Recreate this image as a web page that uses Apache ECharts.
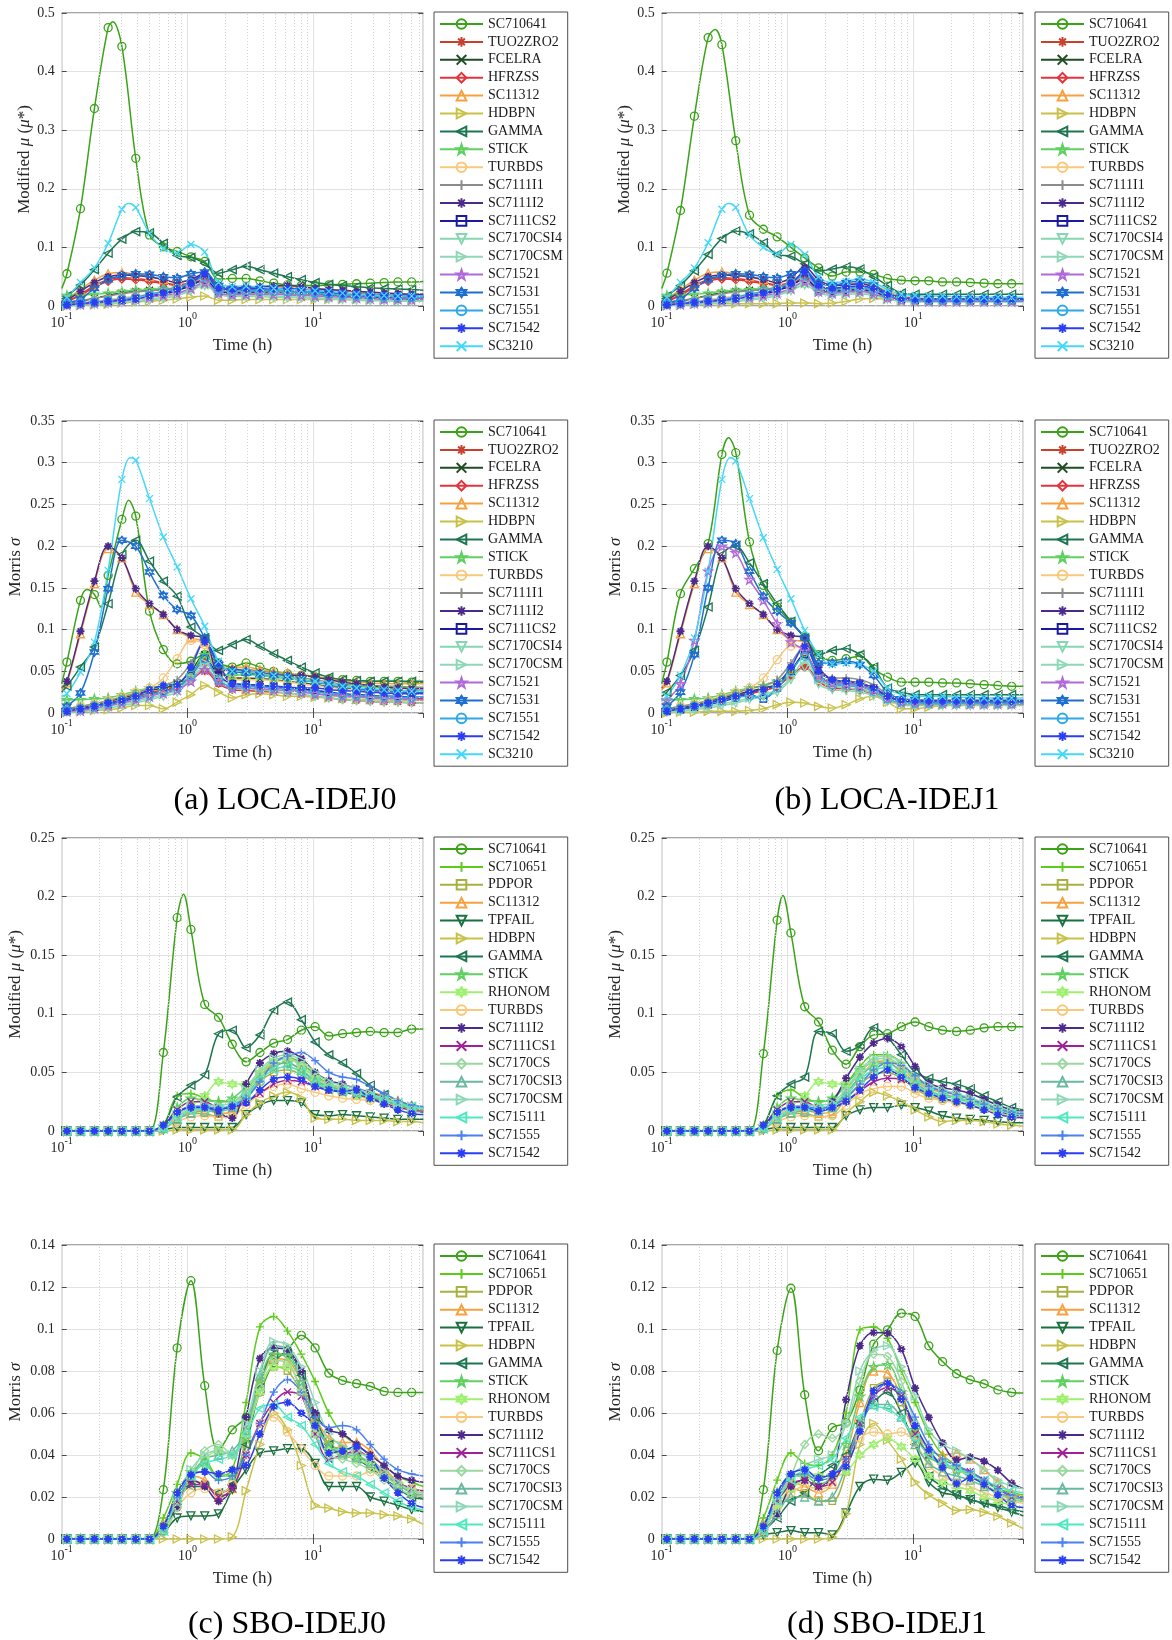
<!DOCTYPE html>
<html>
<head>
<meta charset="utf-8">
<script src="https://cdn.jsdelivr.net/npm/echarts/dist/echarts.min.js"></script>
<style>
html,body{margin:0;padding:0;background:#fff}
#chart{width:1172px;height:1640px}
</style>
</head>
<body>
<div id="chart"></div>
<script>
// Sampling times (h): first/last entries are the curve ends, the rest carry markers.
const T_START = 0.1;
const T_END = 75;
const MARKER_TIMES = [0.11, 0.141, 0.182, 0.234, 0.301, 0.388, 0.499, 0.643, 0.828, 1.065, 1.371, 1.766, 2.272,
  2.926, 3.767, 4.849, 6.24, 8.04, 10.35, 13.3, 17.1, 22.1, 28.4, 36.6, 47.1, 60.6];
const MINOR_GRID = [0.2,0.3,0.4,0.5,0.6,0.7,0.8,0.9,2,3,4,5,6,7,8,9,20,30,40,50,60,70];

const LOCA_NAMES = ['SC710641','TUO2ZRO2','FCELRA','HFRZSS','SC11312','HDBPN','GAMMA','STICK','TURBDS',
  'SC7111I1','SC7111I2','SC7111CS2','SC7170CSI4','SC7170CSM','SC71521','SC71531','SC71551','SC71542','SC3210'];
const SBO_NAMES = ['SC710641','SC710651','PDPOR','SC11312','TPFAIL','HDBPN','GAMMA','STICK','RHONOM','TURBDS',
  'SC7111I2','SC7111CS1','SC7170CS','SC7170CSI3','SC7170CSM','SC715111','SC71555','SC71542'];

// Each row: value at T_START, 26 marker values, value at T_END (28 numbers).
const locaIdej0Mu = {
  SC710641:  [.030,.055,.166,.337,.475,.443,.252, .121,.101,.093,.084,.076,.046,.047, .047,.043,.039,.036,.035,.035,.036, .037,.038,.039,.040,.041,.041,.042],
  TUO2ZRO2:  [.005,.008,.020,.035,.045,.048,.047, .044,.040,.036,.040,.048,.030,.026, .026,.026,.025,.024,.023,.022,.021, .020,.019,.018,.017,.016,.016,.016],
  FCELRA:    [.002,.004,.008,.013,.018,.022,.025, .027,.028,.030,.035,.045,.028,.025, .026,.027,.026,.025,.024,.023,.022, .021,.020,.019,.018,.017,.017,.017],
  HFRZSS:    [.004,.007,.018,.032,.042,.046,.045, .042,.038,.035,.038,.045,.028,.024, .024,.024,.023,.022,.021,.020,.019, .018,.017,.016,.016,.015,.015,.015],
  SC11312:   [.008,.012,.028,.044,.055,.057,.054, .050,.045,.040,.045,.050,.033,.030, .031,.032,.033,.033,.032,.030,.028, .026,.024,.023,.022,.021,.020,.020],
  HDBPN:     [.000,.000,.001,.002,.003,.005,.007, .008,.010,.012,.015,.017,.010,.010, .011,.011,.011,.011,.011,.011,.011, .011,.011,.011,.011,.011,.011,.011],
  GAMMA:     [.012,.017,.036,.062,.090,.114,.127, .125,.107,.086,.083,.073,.056,.062, .068,.062,.056,.050,.045,.040,.037, .035,.033,.031,.030,.029,.028,.027],
  STICK:     [.016,.018,.019,.020,.022,.025,.027, .028,.030,.030,.032,.038,.025,.022, .022,.022,.021,.020,.020,.019,.018, .017,.016,.015,.015,.014,.014,.014],
  TURBDS:    [.002,.003,.005,.008,.011,.014,.017, .020,.024,.030,.040,.048,.030,.026, .026,.025,.024,.023,.022,.021,.020, .019,.018,.017,.016,.016,.015,.015],
  SC7111I1:  [.003,.005,.009,.013,.017,.021,.024, .026,.028,.032,.040,.050,.030,.027, .028,.028,.027,.026,.025,.024,.023, .022,.021,.020,.019,.018,.018,.018],
  SC7111I2:  [.006,.010,.025,.040,.050,.053,.052, .050,.045,.040,.045,.055,.035,.030, .032,.033,.034,.035,.033,.030,.028, .027,.025,.024,.022,.021,.020,.020],
  SC7111CS2: [.001,.002,.004,.006,.008,.010,.013, .016,.020,.026,.035,.045,.025,.022, .023,.024,.024,.023,.022,.021,.020, .018,.017,.016,.015,.014,.014,.014],
  SC7170CSI4:[.000,.001,.002,.003,.004,.006,.008, .010,.013,.018,.026,.035,.020,.016, .016,.016,.015,.015,.014,.013,.012, .011,.010,.009,.009,.008,.008,.008],
  SC7170CSM: [.000,.001,.002,.004,.005,.007,.009, .012,.015,.020,.028,.038,.022,.018, .018,.018,.017,.016,.015,.014,.013, .012,.011,.010,.010,.009,.009,.009],
  SC71521:   [.001,.002,.003,.005,.007,.009,.012, .015,.018,.022,.030,.040,.022,.019, .020,.020,.020,.019,.018,.017,.016, .015,.014,.013,.012,.012,.011,.011],
  SC71531:   [.003,.005,.012,.030,.045,.052,.055, .054,.050,.048,.055,.058,.035,.030, .030,.030,.030,.028,.027,.025,.022, .020,.018,.017,.016,.015,.015,.015],
  SC71551:   [.002,.003,.005,.007,.009,.012,.015, .020,.025,.030,.040,.050,.028,.025, .026,.026,.025,.024,.023,.022,.020, .019,.018,.017,.016,.016,.015,.015],
  SC71542:   [.001,.002,.004,.006,.008,.010,.012, .017,.022,.028,.038,.055,.030,.028, .030,.030,.030,.030,.028,.026,.024, .022,.020,.019,.018,.017,.017,.017],
  SC3210:    [.008,.015,.040,.065,.107,.165,.168, .124,.098,.090,.105,.092,.040,.033, .034,.032,.030,.028,.027,.026,.025, .022,.020,.019,.018,.017,.017,.017]
};
const locaIdej0MuPeaks = { SC710641: [[0.255, .485]], SC3210: [[0.34, .175]] };

const locaIdej1Mu = {
  SC710641:  [.030,.056,.163,.324,.458,.446,.282, .155,.131,.118,.100,.082,.065,.051, .058,.058,.054,.047,.044,.043,.043, .041,.041,.040,.039,.038,.038,.038],
  TUO2ZRO2:  [.005,.008,.020,.035,.045,.048,.047, .044,.040,.036,.040,.050,.032,.028, .030,.030,.027,.020,.013,.011,.010, .010,.010,.010,.010,.010,.010,.010],
  FCELRA:    [.002,.004,.008,.013,.018,.022,.025, .027,.028,.030,.035,.048,.032,.028, .030,.030,.027,.019,.013,.011,.010, .010,.010,.010,.010,.010,.010,.010],
  HFRZSS:    [.004,.007,.018,.032,.042,.046,.045, .042,.038,.035,.038,.046,.030,.026, .028,.028,.025,.018,.012,.010,.009, .009,.009,.009,.009,.009,.009,.009],
  SC11312:   [.008,.012,.028,.044,.056,.058,.055, .050,.045,.040,.045,.052,.040,.035, .037,.038,.035,.025,.017,.014,.013, .012,.012,.012,.011,.011,.011,.011],
  HDBPN:     [.000,.001,.002,.003,.004,.004,.004, .004,.004,.004,.005,.005,.004,.005, .008,.012,.013,.011,.009,.009,.009, .009,.009,.009,.009,.009,.009,.009],
  GAMMA:     [.012,.017,.035,.060,.088,.115,.128, .123,.108,.088,.085,.072,.060,.063, .067,.063,.050,.035,.022,.020,.020, .020,.020,.020,.020,.020,.020,.020],
  STICK:     [.016,.018,.019,.020,.022,.025,.027, .028,.030,.030,.032,.040,.028,.025, .026,.026,.023,.017,.012,.011,.010, .010,.010,.010,.010,.010,.010,.010],
  TURBDS:    [.002,.003,.005,.008,.011,.014,.017, .020,.024,.030,.040,.050,.032,.028, .030,.030,.026,.018,.012,.010,.009, .009,.009,.009,.009,.009,.009,.009],
  SC7111I1:  [.003,.005,.009,.013,.017,.021,.024, .026,.028,.032,.040,.052,.034,.030, .032,.032,.028,.019,.013,.011,.011, .011,.011,.011,.011,.011,.011,.011],
  SC7111I2:  [.006,.010,.025,.040,.050,.053,.052, .050,.045,.040,.048,.066,.045,.035, .036,.038,.033,.022,.015,.013,.012, .012,.012,.011,.011,.011,.011,.011],
  SC7111CS2: [.001,.002,.004,.006,.008,.010,.013, .016,.020,.026,.035,.046,.028,.025, .027,.028,.024,.016,.011,.010,.009, .009,.009,.009,.009,.009,.009,.009],
  SC7170CSI4:[.000,.001,.002,.003,.004,.006,.008, .010,.013,.018,.026,.036,.022,.018, .020,.021,.018,.012,.008,.007,.007, .007,.007,.007,.007,.007,.007,.007],
  SC7170CSM: [.000,.001,.002,.004,.005,.007,.009, .012,.015,.020,.028,.040,.024,.020, .022,.023,.020,.013,.009,.008,.008, .008,.008,.008,.008,.008,.008,.008],
  SC71521:   [.001,.002,.003,.005,.007,.009,.012, .015,.018,.022,.030,.042,.025,.022, .024,.025,.021,.014,.010,.009,.008, .008,.008,.008,.008,.008,.008,.008],
  SC71531:   [.003,.005,.012,.030,.045,.052,.055, .054,.050,.048,.055,.060,.040,.035, .040,.042,.036,.022,.015,.013,.012, .012,.012,.012,.012,.012,.012,.012],
  SC71551:   [.002,.003,.005,.007,.009,.012,.015, .020,.025,.030,.040,.052,.033,.028, .030,.031,.027,.018,.013,.011,.010, .010,.010,.010,.010,.010,.010,.010],
  SC71542:   [.001,.002,.004,.006,.008,.010,.012, .017,.022,.028,.038,.058,.035,.030, .033,.034,.030,.020,.014,.012,.012, .012,.012,.012,.012,.012,.012,.012],
  SC3210:    [.008,.015,.040,.065,.108,.165,.168, .121,.100,.089,.105,.088,.050,.040, .042,.046,.040,.028,.020,.018,.017, .017,.016,.016,.015,.015,.015,.015]
};
const locaIdej1MuPeaks = { SC710641: [[0.266, .472]], SC3210: [[0.34, .175]] };

const locaIdej0Sigma = {
  SC710641:  [.035,.061,.135,.142,.165,.232,.236, .122,.076,.059,.062,.070,.060,.055, .060,.055,.050,.047,.045,.043,.041, .040,.039,.038,.038,.038,.037,.037],
  TUO2ZRO2:  [.002,.003,.006,.009,.012,.016,.020, .024,.028,.032,.040,.050,.035,.028, .027,.026,.025,.024,.022,.020,.018, .016,.015,.014,.013,.013,.012,.012],
  FCELRA:    [.003,.004,.007,.010,.014,.018,.022, .027,.030,.035,.050,.070,.050,.042, .042,.041,.040,.038,.036,.034,.032, .030,.029,.028,.027,.027,.026,.026],
  HFRZSS:    [.002,.003,.005,.008,.011,.015,.019, .023,.027,.032,.045,.060,.042,.035, .034,.033,.031,.029,.027,.025,.023, .021,.020,.019,.018,.018,.017,.017],
  SC11312:   [.028,.036,.095,.155,.197,.186,.145, .130,.118,.100,.090,.085,.052,.054, .055,.052,.050,.048,.046,.044,.041, .039,.037,.036,.035,.035,.035,.035],
  HDBPN:     [.000,.001,.002,.003,.004,.006,.009, .009,.005,.013,.022,.033,.025,.018, .022,.023,.022,.020,.020,.019,.018, .017,.016,.016,.015,.015,.015,.015],
  GAMMA:     [.025,.032,.055,.079,.131,.190,.207, .182,.158,.140,.103,.090,.075,.082, .088,.080,.071,.063,.055,.048,.043, .040,.039,.038,.038,.038,.038,.038],
  STICK:     [.015,.016,.016,.017,.018,.022,.026, .030,.033,.035,.045,.070,.050,.045, .046,.045,.043,.041,.039,.037,.035, .033,.032,.031,.030,.030,.030,.030],
  TURBDS:    [.003,.005,.008,.011,.015,.020,.025, .030,.042,.065,.087,.082,.045,.040, .040,.040,.039,.037,.035,.033,.031, .029,.028,.027,.026,.026,.025,.025],
  SC7111I1:  [.004,.005,.008,.011,.015,.019,.024, .029,.033,.040,.060,.085,.060,.052, .052,.050,.048,.045,.042,.040,.037, .035,.034,.033,.032,.032,.031,.031],
  SC7111I2:  [.030,.038,.098,.158,.200,.186,.149, .131,.118,.100,.093,.090,.050,.052, .050,.048,.046,.045,.045,.043,.040, .037,.035,.033,.031,.030,.029,.029],
  SC7111CS2: [.001,.002,.004,.007,.010,.014,.018, .022,.026,.030,.045,.065,.045,.035, .034,.033,.032,.031,.029,.027,.025, .023,.022,.021,.020,.020,.019,.019],
  SC7170CSI4:[.000,.001,.002,.004,.006,.009,.012, .016,.020,.025,.040,.055,.038,.030, .029,.028,.026,.024,.022,.020,.018, .016,.015,.014,.013,.013,.012,.012],
  SC7170CSM: [.001,.002,.003,.005,.008,.011,.014, .018,.022,.028,.042,.060,.042,.034, .033,.032,.030,.028,.026,.024,.022, .020,.019,.018,.017,.017,.016,.016],
  SC71521:   [.001,.002,.003,.006,.009,.012,.016, .020,.024,.028,.038,.052,.038,.030, .030,.029,.028,.027,.025,.023,.021, .020,.019,.018,.017,.017,.016,.016],
  SC71531:   [.005,.008,.024,.073,.149,.207,.200, .169,.141,.124,.117,.090,.058,.050, .048,.046,.045,.043,.040,.037,.034, .031,.029,.027,.026,.025,.025,.025],
  SC71551:   [.002,.003,.005,.008,.011,.015,.019, .022,.026,.030,.045,.065,.040,.032, .032,.031,.030,.029,.027,.025,.024, .022,.021,.020,.020,.019,.019,.019],
  SC71542:   [.001,.002,.005,.008,.012,.015,.020, .028,.033,.034,.055,.085,.060,.035, .034,.033,.032,.031,.030,.030,.028, .027,.026,.025,.024,.023,.023,.023],
  SC3210:    [.020,.023,.049,.085,.171,.280,.303, .257,.211,.175,.137,.104,.062,.050, .050,.047,.045,.043,.040,.038,.035, .032,.030,.029,.028,.027,.026,.026]
};
const locaIdej0SigmaPeaks = { SC710641: [[0.158, .148], [0.205, .127], [0.34, .255]], SC3210: [[0.35, .306]] };

const locaIdej1Sigma = {
  SC710641:  [.035,.061,.143,.173,.203,.310,.312, .205,.153,.127,.109,.091,.070,.063, .065,.068,.053,.043,.037,.037,.037, .036,.036,.035,.034,.033,.032,.032],
  TUO2ZRO2:  [.002,.003,.006,.009,.012,.016,.020, .024,.028,.032,.045,.055,.040,.032, .030,.028,.024,.016,.012,.011,.011, .011,.011,.011,.011,.011,.011,.011],
  FCELRA:    [.003,.004,.007,.010,.014,.018,.022, .026,.030,.035,.050,.070,.045,.038, .037,.035,.030,.020,.015,.014,.013, .013,.013,.013,.013,.013,.013,.013],
  HFRZSS:    [.002,.003,.005,.008,.011,.015,.019, .023,.027,.032,.045,.055,.038,.030, .029,.027,.023,.015,.011,.010,.010, .010,.010,.010,.010,.010,.010,.010],
  SC11312:   [.028,.036,.095,.155,.197,.186,.145, .130,.118,.100,.088,.085,.050,.040, .037,.035,.030,.020,.015,.014,.013, .013,.013,.012,.012,.012,.012,.012],
  HDBPN:     [.000,.000,.001,.001,.002,.002,.002, .003,.005,.010,.013,.012,.008,.006, .010,.017,.020,.013,.005,.005,.007, .009,.010,.010,.010,.010,.010,.010],
  GAMMA:     [.020,.025,.045,.075,.127,.190,.200, .180,.155,.131,.110,.090,.070,.075, .077,.070,.055,.030,.025,.022,.022, .022,.022,.022,.022,.022,.022,.022],
  STICK:     [.015,.016,.016,.017,.018,.022,.026, .030,.033,.038,.050,.070,.045,.038, .037,.035,.030,.020,.015,.014,.014, .014,.014,.014,.014,.014,.014,.014],
  TURBDS:    [.003,.005,.008,.011,.015,.020,.025, .030,.042,.064,.080,.075,.040,.035, .033,.030,.025,.016,.013,.012,.012, .012,.012,.012,.012,.012,.012,.012],
  SC7111I1:  [.004,.005,.008,.011,.015,.019,.024, .029,.033,.040,.060,.080,.050,.042, .042,.040,.034,.022,.016,.015,.015, .015,.015,.015,.015,.015,.015,.015],
  SC7111I2:  [.030,.038,.098,.158,.200,.186,.149, .131,.118,.100,.093,.090,.055,.040, .038,.035,.030,.020,.015,.014,.013, .013,.012,.012,.012,.011,.011,.011],
  SC7111CS2: [.001,.002,.004,.007,.010,.014,.018, .022,.017,.030,.050,.070,.045,.036, .035,.033,.028,.018,.014,.013,.013, .013,.013,.013,.013,.013,.013,.013],
  SC7170CSI4:[.000,.001,.002,.004,.006,.009,.012, .016,.020,.025,.040,.055,.035,.028, .027,.025,.021,.014,.010,.009,.009, .009,.009,.009,.009,.009,.009,.009],
  SC7170CSM: [.001,.002,.003,.005,.008,.011,.014, .018,.022,.028,.042,.062,.040,.032, .030,.028,.024,.016,.012,.011,.011, .011,.011,.011,.011,.011,.011,.011],
  SC71521:   [.010,.015,.035,.087,.170,.200,.192, .160,.135,.107,.085,.075,.045,.036, .035,.033,.028,.018,.013,.012,.012, .012,.012,.011,.011,.011,.011,.011],
  SC71531:   [.005,.008,.025,.070,.150,.207,.203, .170,.140,.122,.108,.090,.060,.060, .062,.058,.045,.025,.017,.016,.015, .015,.015,.015,.015,.015,.015,.015],
  SC71551:   [.002,.003,.005,.008,.011,.015,.019, .020,.018,.030,.050,.068,.042,.034, .033,.031,.026,.017,.013,.012,.012, .012,.012,.012,.012,.012,.012,.012],
  SC71542:   [.001,.002,.005,.008,.012,.016,.020, .025,.028,.035,.055,.080,.050,.040, .038,.036,.030,.020,.016,.015,.015, .015,.015,.015,.015,.015,.015,.015],
  SC3210:    [.015,.020,.045,.090,.170,.280,.302, .257,.210,.172,.137,.099,.070,.058, .060,.058,.050,.030,.022,.020,.020, .020,.019,.019,.018,.018,.018,.018]
};
const locaIdej1SigmaPeaks = { SC710641: [[0.34, .330]], SC3210: [[0.35, .306]] };

const sboIdej0Mu = {
  SC710641:  [0,0,0,0,0,0,0, 0,.067,.182,.172,.108,.097,.074, .059,.067,.075,.078,.086,.089,.081, .083,.084,.085,.084,.084,.087,.087],
  SC710651:  [0,0,0,0,0,0,0, 0,.005,.030,.032,.028,.025,.025, .035,.050,.060,.063,.058,.048,.040, .037,.034,.030,.026,.022,.020,.019],
  PDPOR:     [0,0,0,0,0,0,0, 0,.002,.010,.015,.015,.012,.014, .028,.042,.050,.052,.048,.040,.035, .033,.031,.029,.026,.023,.020,.019],
  SC11312:   [0,0,0,0,0,0,0, 0,.003,.012,.018,.018,.015,.016, .030,.045,.058,.062,.056,.045,.038, .036,.035,.033,.030,.026,.022,.020],
  TPFAIL:    [0,0,0,0,0,0,0, 0,.001,.003,.003,.003,.003,.003, .014,.022,.026,.026,.024,.014,.013, .014,.013,.012,.011,.010,.010,.010],
  HDBPN:     [0,0,0,0,0,0,0, 0,0,.001,.001,.001,.001,.001, .014,.024,.030,.033,.028,.011,.010, .010,.009,.009,.009,.008,.008,.007],
  GAMMA:     [0,0,0,0,0,0,0, 0,.005,.029,.039,.048,.083,.086, .071,.082,.103,.110,.095,.076,.065, .058,.049,.039,.031,.022,.018,.016],
  STICK:     [0,0,0,0,0,0,0, 0,.004,.020,.028,.026,.025,.028, .038,.050,.057,.058,.052,.042,.036, .034,.032,.029,.025,.021,.018,.017],
  RHONOM:    [0,0,0,0,0,0,0, 0,.003,.015,.022,.030,.042,.040, .040,.050,.060,.062,.055,.045,.038, .034,.030,.027,.024,.021,.019,.018],
  TURBDS:    [0,0,0,0,0,0,0, 0,.002,.008,.012,.013,.012,.013, .022,.032,.038,.040,.036,.033,.030, .028,.027,.026,.024,.021,.018,.017],
  SC7111I2:  [0,0,0,0,0,0,0, 0,.004,.015,.020,.020,.015,.011, .040,.058,.066,.068,.062,.050,.043, .040,.036,.033,.028,.024,.021,.020],
  SC7111CS1: [0,0,0,0,0,0,0, 0,.005,.018,.025,.025,.020,.020, .025,.032,.040,.043,.042,.038,.035, .033,.031,.028,.024,.020,.018,.017],
  SC7170CS:  [0,0,0,0,0,0,0, 0,.003,.012,.018,.020,.020,.022, .032,.048,.058,.062,.056,.046,.040, .037,.034,.031,.027,.023,.020,.019],
  SC7170CSI3:[0,0,0,0,0,0,0, 0,.002,.010,.015,.017,.017,.020, .030,.045,.055,.058,.052,.043,.038, .035,.033,.030,.026,.022,.019,.018],
  SC7170CSM: [0,0,0,0,0,0,0, 0,.003,.014,.020,.022,.022,.024, .035,.052,.062,.065,.060,.050,.042, .039,.036,.032,.028,.024,.021,.020],
  SC715111:  [0,0,0,0,0,0,0, 0,.002,.011,.017,.019,.019,.021, .030,.044,.052,.055,.050,.041,.036, .034,.032,.030,.027,.024,.021,.020],
  SC71555:   [0,0,0,0,0,0,0, 0,.004,.016,.021,.021,.019,.022, .028,.042,.058,.064,.067,.060,.050, .046,.044,.038,.032,.026,.022,.021],
  SC71542:   [0,0,0,0,0,0,0, 0,.005,.016,.020,.020,.018,.021, .024,.035,.044,.046,.044,.038,.035, .034,.035,.028,.023,.018,.015,.014]
};
const sboIdej0MuPeaks = { SC710641: [[0.93, .202]] };

const sboIdej1Mu = {
  SC710641:  [0,0,0,0,0,0,0, 0,.066,.180,.169,.106,.093,.069, .057,.072,.082,.083,.089,.093,.089, .086,.085,.086,.088,.089,.089,.089],
  SC710651:  [0,0,0,0,0,0,0, 0,.005,.030,.035,.028,.025,.027, .040,.055,.065,.065,.058,.045,.038, .034,.031,.027,.023,.019,.016,.015],
  PDPOR:     [0,0,0,0,0,0,0, 0,.002,.010,.015,.015,.012,.014, .028,.040,.048,.050,.045,.036,.030, .027,.025,.022,.019,.016,.013,.012],
  SC11312:   [0,0,0,0,0,0,0, 0,.003,.012,.018,.018,.015,.017, .032,.046,.058,.060,.054,.043,.036, .033,.031,.028,.024,.020,.016,.015],
  TPFAIL:    [0,0,0,0,0,0,0, 0,.001,.003,.003,.003,.003,.003, .013,.018,.020,.020,.022,.020,.017, .013,.011,.010,.009,.008,.007,.007],
  HDBPN:     [0,0,0,0,0,0,0, 0,0,.001,.001,.001,.001,.001, .015,.025,.033,.030,.025,.018,.012, .008,.009,.009,.008,.006,.005,.004],
  GAMMA:     [0,0,0,0,0,0,0, 0,.005,.030,.040,.046,.085,.083, .068,.073,.088,.080,.065,.050,.045, .042,.040,.036,.030,.025,.020,.018],
  STICK:     [0,0,0,0,0,0,0, 0,.004,.020,.028,.026,.025,.028, .040,.052,.058,.058,.050,.040,.033, .030,.028,.025,.021,.018,.015,.014],
  RHONOM:    [0,0,0,0,0,0,0, 0,.003,.015,.022,.030,.042,.040, .040,.048,.056,.058,.050,.040,.033, .030,.027,.024,.020,.017,.014,.013],
  TURBDS:    [0,0,0,0,0,0,0, 0,.002,.008,.012,.013,.012,.013, .022,.032,.036,.038,.038,.032,.028, .026,.024,.022,.019,.016,.013,.012],
  SC7111I2:  [0,0,0,0,0,0,0, 0,.004,.015,.020,.020,.018,.025, .045,.063,.075,.079,.072,.055,.041, .037,.035,.032,.027,.022,.018,.017],
  SC7111CS1: [0,0,0,0,0,0,0, 0,.005,.018,.025,.025,.020,.020, .026,.034,.042,.045,.044,.038,.033, .030,.028,.025,.021,.017,.014,.013],
  SC7170CS:  [0,0,0,0,0,0,0, 0,.003,.012,.018,.020,.020,.022, .034,.050,.060,.062,.055,.044,.037, .034,.031,.027,.023,.019,.016,.015],
  SC7170CSI3:[0,0,0,0,0,0,0, 0,.002,.010,.015,.017,.017,.020, .032,.046,.056,.058,.051,.041,.034, .031,.029,.025,.021,.018,.015,.014],
  SC7170CSM: [0,0,0,0,0,0,0, 0,.003,.014,.020,.022,.022,.024, .036,.052,.062,.064,.058,.047,.039, .035,.032,.028,.024,.020,.017,.016],
  SC715111:  [0,0,0,0,0,0,0, 0,.002,.011,.017,.019,.019,.021, .030,.044,.052,.054,.048,.039,.033, .030,.028,.025,.021,.018,.015,.014],
  SC71555:   [0,0,0,0,0,0,0, 0,.004,.016,.021,.021,.019,.022, .028,.040,.052,.058,.056,.047,.038, .034,.031,.027,.023,.019,.016,.015],
  SC71542:   [0,0,0,0,0,0,0, 0,.005,.016,.020,.020,.017,.020, .025,.035,.046,.052,.046,.037,.032, .028,.025,.022,.018,.014,.012,.011]
};
const sboIdej1MuPeaks = { SC710641: [[0.92, .201]] };

const sboIdej0Sigma = {
  SC710641:  [0,0,0,0,0,0,0, 0,.0235,.091,.123,.073,.042,.052, .058,.070,.084,.090,.097,.091,.079, .0755,.074,.0727,.0703,.0698,.0698,.0698],
  SC710651:  [0,0,0,0,0,0,0, 0,.010,.026,.041,.038,.030,.033, .065,.101,.106,.099,.088,.075,.060, .050,.045,.040,.035,.030,.027,.025],
  PDPOR:     [0,0,0,0,0,0,0, 0,.006,.020,.028,.026,.022,.025, .045,.070,.082,.080,.070,.055,.045, .043,.042,.038,.032,.027,.024,.023],
  SC11312:   [0,0,0,0,0,0,0, 0,.007,.022,.030,.028,.020,.024, .048,.075,.086,.085,.075,.058,.048, .046,.046,.042,.034,.027,.022,.020],
  TPFAIL:    [0,0,0,0,0,0,0, 0,.003,.010,.011,.011,.012,.0235, .033,.041,.042,.043,.043,.036,.025, .025,.025,.020,.018,.016,.014,.013],
  HDBPN:     [0,0,0,0,0,0,0, 0,0,0,0,0,0,.001, .023,.045,.060,.052,.035,.016,.0147, .013,.0124,.0124,.0116,.011,.0095,.007],
  GAMMA:     [0,0,0,0,0,0,0, 0,.005,.018,.025,.025,.022,.026, .045,.072,.088,.088,.078,.058,.045, .040,.038,.034,.029,.024,.020,.019],
  STICK:     [0,0,0,0,0,0,0, 0,.006,.022,.032,.035,.030,.030, .048,.075,.088,.087,.075,.055,.045, .042,.040,.036,.030,.026,.023,.022],
  RHONOM:    [0,0,0,0,0,0,0, 0,.004,.018,.028,.038,.042,.040, .050,.070,.082,.082,.070,.050,.042, .040,.038,.035,.030,.026,.023,.022],
  TURBDS:    [0,0,0,0,0,0,0, 0,.004,.015,.022,.024,.022,.026, .040,.055,.058,.051,.043,.035,.030, .030,.030,.032,.030,.027,.024,.023],
  SC7111I2:  [0,0,0,0,0,0,0, 0,.006,.015,.028,.025,.018,.025, .058,.086,.091,.090,.080,.060,.052, .050,.045,.040,.035,.030,.028,.027],
  SC7111CS1: [0,0,0,0,0,0,0, 0,.005,.018,.026,.026,.020,.024, .040,.055,.065,.070,.068,.050,.038, .040,.042,.038,.032,.027,.024,.023],
  SC7170CS:  [0,0,0,0,0,0,0, 0,.003,.015,.030,.042,.045,.040, .050,.072,.085,.084,.070,.050,.040, .038,.036,.033,.028,.024,.021,.020],
  SC7170CSI3:[0,0,0,0,0,0,0, 0,.004,.018,.030,.038,.040,.042, .052,.078,.092,.090,.075,.055,.044, .041,.039,.036,.031,.026,.022,.021],
  SC7170CSM: [0,0,0,0,0,0,0, 0,.005,.020,.033,.040,.042,.040, .055,.080,.094,.092,.082,.065,.050, .044,.042,.038,.032,.027,.023,.022],
  SC715111:  [0,0,0,0,0,0,0, 0,.004,.020,.030,.036,.038,.040, .050,.062,.064,.058,.054,.045,.036, .032,.030,.026,.022,.018,.015,.014],
  SC71555:   [0,0,0,0,0,0,0, 0,.006,.020,.030,.032,.028,.030, .040,.055,.070,.076,.070,.058,.053, .054,.052,.045,.038,.033,.031,.030],
  SC71542:   [0,0,0,0,0,0,0, 0,.006,.022,.0306,.032,.031,.033, .035,.050,.063,.065,.060,.054,.041, .042,.044,.039,.029,.022,.017,.015]
};
const sboIdej0SigmaPeaks = {};

const sboIdej1Sigma = {
  SC710641:  [0,0,0,0,0,0,0, 0,.0235,.0898,.1194,.0687,.042,.053, .0555,.071,.0928,.0996,.1075,.106,.092, .0845,.0787,.0758,.0739,.071,.0698,.0695],
  SC710651:  [0,0,0,0,0,0,0, 0,.010,.028,.041,.036,.035,.040, .060,.0996,.101,.0956,.080,.065,.050, .040,.035,.030,.027,.024,.022,.021],
  PDPOR:     [0,0,0,0,0,0,0, 0,.006,.018,.024,.022,.018,.018, .032,.055,.072,.075,.065,.050,.040, .035,.033,.030,.026,.022,.019,.018],
  SC11312:   [0,0,0,0,0,0,0, 0,.007,.020,.027,.025,.022,.026, .040,.065,.080,.079,.068,.052,.043, .040,.041,.038,.033,.027,.022,.020],
  TPFAIL:    [0,0,0,0,0,0,0, 0,.002,.003,.004,.003,.003,.002, .0124,.025,.0285,.028,.0317,.0362,.027, .022,.021,.0187,.017,.015,.013,.011],
  HDBPN:     [0,0,0,0,0,0,0, 0,0,0,0,0,0,.001, .012,.045,.055,.047,.038,.027,.021, .017,.0136,.014,.0127,.0108,.0076,.005],
  GAMMA:     [0,0,0,0,0,0,0, 0,.004,.010,.018,.022,.030,.035, .040,.055,.065,.070,.060,.045,.030, .025,.021,.019,.017,.016,.014,.013],
  STICK:     [0,0,0,0,0,0,0, 0,.006,.022,.030,.030,.026,.030, .045,.068,.082,.083,.070,.052,.040, .035,.033,.030,.026,.022,.019,.018],
  RHONOM:    [0,0,0,0,0,0,0, 0,.004,.016,.024,.028,.030,.030, .032,.040,.045,.048,.044,.038,.030, .027,.025,.023,.020,.018,.016,.015],
  TURBDS:    [0,0,0,0,0,0,0, 0,.004,.015,.022,.025,.024,.026, .038,.048,.051,.050,.051,.046,.035, .030,.027,.025,.022,.020,.018,.017],
  SC7111I2:  [0,0,0,0,0,0,0, 0,.004,.012,.025,.028,.025,.030, .0663,.092,.0983,.098,.0904,.0718,.0579, .0457,.0377,.0389,.037,.0327,.0266,.024],
  SC7111CS1: [0,0,0,0,0,0,0, 0,.005,.018,.026,.028,.025,.027, .038,.055,.068,.072,.068,.050,.040, .036,.034,.032,.028,.024,.020,.019],
  SC7170CS:  [0,0,0,0,0,0,0, 0,.004,.018,.030,.045,.050,.048, .055,.075,.088,.087,.075,.055,.042, .036,.033,.030,.026,.022,.019,.018],
  SC7170CSI3:[0,0,0,0,0,0,0, 0,.003,.012,.020,.020,.018,.020, .035,.055,.064,.064,.058,.045,.036, .032,.030,.028,.025,.022,.020,.019],
  SC7170CSM: [0,0,0,0,0,0,0, 0,.005,.020,.030,.035,.038,.040, .055,.080,.090,.092,.082,.068,.052, .045,.042,.038,.033,.028,.025,.024],
  SC715111:  [0,0,0,0,0,0,0, 0,.004,.018,.028,.033,.035,.038, .048,.058,.063,.062,.057,.048,.040, .036,.034,.031,.028,.025,.023,.022],
  SC71555:   [0,0,0,0,0,0,0, 0,.006,.020,.030,.031,.028,.030, .038,.052,.068,.074,.070,.058,.045, .038,.035,.032,.028,.024,.021,.020],
  SC71542:   [0,0,0,0,0,0,0, 0,.006,.022,.031,.033,.029,.031, .0346,.0512,.0706,.0742,.0666,.0539,.0425, .034,.0263,.029,.026,.021,.016,.015]
};
const sboIdej1SigmaPeaks = {};

// ---- styling ----
const FONT = 'Liberation Serif';
const INK = '#262626';
const SYM = {
  circle: 'circle',
  square: 'rect',
  diamond: 'diamond',
  up: 'triangle',
  down: 'path://M0,0L10,0L5,10Z',
  right: 'path://M0,0L10,5L0,10Z',
  left: 'path://M10,0L0,5L10,10Z',
  plus: 'path://M5,0L5,10M0,5L10,5',
  cross: 'path://M1,1L9,9M9,1L1,9',
  asterisk: 'path://M5,0L5,10M0,5L10,5M1.5,1.5L8.5,8.5M8.5,1.5L1.5,8.5',
  pentagram: 'path://M5,0L6.123,3.455L9.755,3.455L6.817,5.59L7.939,9.045L5,6.91L2.061,9.045L3.183,5.59L0.245,3.455L3.877,3.455Z',
  hexagram: 'path://M5,0L9.33,7.5L0.67,7.5ZM5,10L0.67,2.5L9.33,2.5Z'
};
const SYM_SIZE = { circle: 8, square: 6.5, diamond: 8, up: 8, down: 8, right: 8, left: 8,
  plus: 8, cross: 7, asterisk: 8, pentagram: 9, hexagram: 8.5 };
const STYLE = {
  SC710641:  ['#3aa317', 'circle'],
  TUO2ZRO2:  ['#c8412c', 'asterisk'],
  FCELRA:    ['#1f4d24', 'cross'],
  HFRZSS:    ['#e3343c', 'diamond'],
  SC11312:   ['#f7a040', 'up'],
  HDBPN:     ['#c9c24a', 'right'],
  GAMMA:     ['#1e7650', 'left'],
  STICK:     ['#5fd060', 'pentagram'],
  TURBDS:    ['#f9c87a', 'circle'],
  SC7111I1:  ['#8c8c8c', 'plus'],
  SC7111I2:  ['#4b2a8c', 'asterisk'],
  SC7111CS2: ['#1a1aa0', 'square'],
  SC7170CSI4:['#86d6b2', 'down'],
  SC7170CSM: ['#8ed8b8', 'right'],
  SC71521:   ['#b06ad8', 'pentagram'],
  SC71531:   ['#1f6fd0', 'hexagram'],
  SC71551:   ['#2fa8e6', 'circle'],
  SC71542:   ['#2b3df2', 'asterisk'],
  SC3210:    ['#44d8f8', 'cross'],
  SC710651:  ['#5ccc1a', 'plus'],
  PDPOR:     ['#a8b040', 'square'],
  TPFAIL:    ['#1b7040', 'down'],
  RHONOM:    ['#a0f070', 'hexagram'],
  SC7111CS1: ['#a0209a', 'cross'],
  SC7170CS:  ['#9ad8a0', 'diamond'],
  SC7170CSI3:['#6ab8a0', 'up'],
  SC715111:  ['#50e8c0', 'left'],
  SC71555:   ['#4a80f0', 'plus']
};

const MU_NAME = 'Modified {i|μ} ({i|μ}*)';
const SIGMA_NAME = 'Morris {i|σ}';

// grid order: left/right column, rows top to bottom
const PANELS = [
  { names: LOCA_NAMES, values: locaIdej0Mu,    peaks: locaIdej0MuPeaks,    yMax: 0.5,  yStep: 0.1,  yName: MU_NAME },
  { names: LOCA_NAMES, values: locaIdej1Mu,    peaks: locaIdej1MuPeaks,    yMax: 0.5,  yStep: 0.1,  yName: MU_NAME },
  { names: LOCA_NAMES, values: locaIdej0Sigma, peaks: locaIdej0SigmaPeaks, yMax: 0.35, yStep: 0.05, yName: SIGMA_NAME },
  { names: LOCA_NAMES, values: locaIdej1Sigma, peaks: locaIdej1SigmaPeaks, yMax: 0.35, yStep: 0.05, yName: SIGMA_NAME },
  { names: SBO_NAMES,  values: sboIdej0Mu,     peaks: sboIdej0MuPeaks,     yMax: 0.25, yStep: 0.05, yName: MU_NAME },
  { names: SBO_NAMES,  values: sboIdej1Mu,     peaks: sboIdej1MuPeaks,     yMax: 0.25, yStep: 0.05, yName: MU_NAME },
  { names: SBO_NAMES,  values: sboIdej0Sigma,  peaks: sboIdej0SigmaPeaks,  yMax: 0.14, yStep: 0.02, yName: SIGMA_NAME },
  { names: SBO_NAMES,  values: sboIdej1Sigma,  peaks: sboIdej1SigmaPeaks,  yMax: 0.14, yStep: 0.02, yName: SIGMA_NAME }
];
const CAPTIONS = [
  { text: '(a) LOCA-IDEJ0', x: 285, y: 801 },
  { text: '(b) LOCA-IDEJ1', x: 887, y: 801 },
  { text: '(c) SBO-IDEJ0',  x: 287, y: 1625 },
  { text: '(d) SBO-IDEJ1',  x: 887, y: 1625 }
];

const COL_LEFT = [61.7, 661.7];
const PLOT_W = 361.6;
const ROW_TOP = [13, 421, 838, 1245];
const ROW_H = [293, 292, 293, 294];
const LEGEND_LEFT = [434, 1035];

function powerLabel(v) {
  const e = Math.log10(v);
  const r = Math.round(e);
  if (Math.abs(e - r) > 1e-6) return '';
  return '{b|10}{s|' + r + '}';
}

const option = {
  animation: false,
  backgroundColor: '#ffffff',
  grid: [], xAxis: [], yAxis: [], legend: [], series: [], graphic: []
};

PANELS.forEach((p, i) => {
  const col = i % 2, row = Math.floor(i / 2);
  option.grid.push({
    left: COL_LEFT[col], top: ROW_TOP[row], width: PLOT_W, height: ROW_H[row],
    show: true, borderColor: '#4d4d4d', borderWidth: 1, backgroundColor: 'rgba(0,0,0,0)',
    containLabel: false, outerBoundsMode: 'none'
  });
  option.xAxis[i] = {
    type: 'log', logBase: 10, gridIndex: i, min: T_START, max: T_END,
    name: 'Time (h)', nameLocation: 'middle', nameGap: 31,
    nameTextStyle: { fontFamily: FONT, fontSize: 17, color: INK },
    axisLine: { show: false },
    axisTick: { show: true, inside: true, length: 5, lineStyle: { color: '#4d4d4d' } },
    axisLabel: {
      margin: 5, showMaxLabel: false, formatter: powerLabel,
      rich: {
        b: { fontFamily: FONT, fontSize: 14, color: INK, lineHeight: 19, verticalAlign: 'bottom' },
        s: { fontFamily: FONT, fontSize: 10, color: INK, lineHeight: 10, verticalAlign: 'top' }
      }
    },
    splitLine: { show: true, lineStyle: { color: '#e2e2e2', width: 1 } }
  };
  option.xAxis[8 + i] = {
    type: 'log', logBase: 10, gridIndex: i, min: T_START, max: T_END, position: 'top',
    axisLine: { show: false }, axisLabel: { show: false }, splitLine: { show: false },
    axisTick: { show: true, inside: true, length: 5, lineStyle: { color: '#4d4d4d' } }
  };
  option.yAxis[i] = {
    type: 'value', gridIndex: i, min: 0, max: p.yMax, interval: p.yStep,
    name: p.yName, nameLocation: 'middle', nameGap: row === 0 ? 29 : 38,
    nameTextStyle: {
      fontFamily: FONT, fontSize: 17, color: INK,
      rich: { i: { fontFamily: FONT, fontSize: 17, fontStyle: 'italic', color: INK } }
    },
    axisLine: { show: false },
    axisTick: { show: true, inside: true, length: 5, lineStyle: { color: '#4d4d4d' } },
    axisLabel: { fontFamily: FONT, fontSize: 14, color: INK, margin: 7 },
    splitLine: { show: true, lineStyle: { color: '#e2e2e2', width: 1 } }
  };
  option.yAxis[8 + i] = {
    type: 'value', gridIndex: i, min: 0, max: p.yMax, interval: p.yStep, position: 'right',
    axisLine: { show: false }, axisLabel: { show: false }, splitLine: { show: false },
    axisTick: { show: true, inside: true, length: 5, lineStyle: { color: '#4d4d4d' } }
  };

  // dotted minor grid at 2..9 x each decade
  option.series.push({
    type: 'line', xAxisIndex: i, yAxisIndex: i, data: [[T_START, 0]], symbol: 'none',
    lineStyle: { width: 0 }, silent: true, z: 1,
    markLine: {
      silent: true, symbol: 'none', label: { show: false },
      lineStyle: { color: '#d0d0d0', type: [1, 2], width: 1 },
      data: MINOR_GRID.map(x => ({ xAxis: x }))
    }
  });

  p.names.forEach(name => {
    const v = p.values[name];
    const [color, sym] = STYLE[name];
    const pts = [{ value: [T_START, v[0]], symbol: 'none' }];
    MARKER_TIMES.forEach((t, k) => pts.push({ value: [t, v[k + 1]] }));
    pts.push({ value: [T_END, v[v.length - 1]], symbol: 'none' });
    (p.peaks[name] || []).forEach(pt => pts.push({ value: pt, symbol: 'none' }));
    pts.sort((a, b) => a.value[0] - b.value[0]);
    option.series.push({
      type: 'line', name, xAxisIndex: i, yAxisIndex: i, data: pts,
      smooth: 0.35, symbol: SYM[sym], symbolSize: SYM_SIZE[sym],
      showAllSymbol: true, clip: true,
      lineStyle: { color, width: 1.5 },
      itemStyle: { color: 'rgba(255,255,255,0)', borderColor: color, borderWidth: sym === 'asterisk' ? 1.8 : 1.3 },
      emphasis: { disabled: true }
    });
  });

  option.legend.push({
    orient: 'vertical', left: LEGEND_LEFT[col], top: ROW_TOP[row] - 1,
    data: p.names, selectedMode: false,
    itemWidth: 43, itemHeight: 12, itemGap: 3.9,
    padding: [5, 5, 5, 5],
    borderColor: '#4d4d4d', borderWidth: 1, backgroundColor: '#ffffff',
    textStyle: { fontFamily: FONT, fontSize: 14, color: '#1a1a1a' }
  });
});

CAPTIONS.forEach(c => {
  option.graphic.push({
    type: 'text', x: c.x, y: c.y, silent: true,
    style: {
      text: c.text, fontFamily: FONT, fontSize: 32, fill: '#000',
      align: 'center', verticalAlign: 'middle', textAlign: 'center', textVerticalAlign: 'middle'
    }
  });
});

const chart = echarts.init(document.getElementById('chart'), null, { renderer: 'canvas' });
chart.setOption(option);
</script>
</body>
</html>
